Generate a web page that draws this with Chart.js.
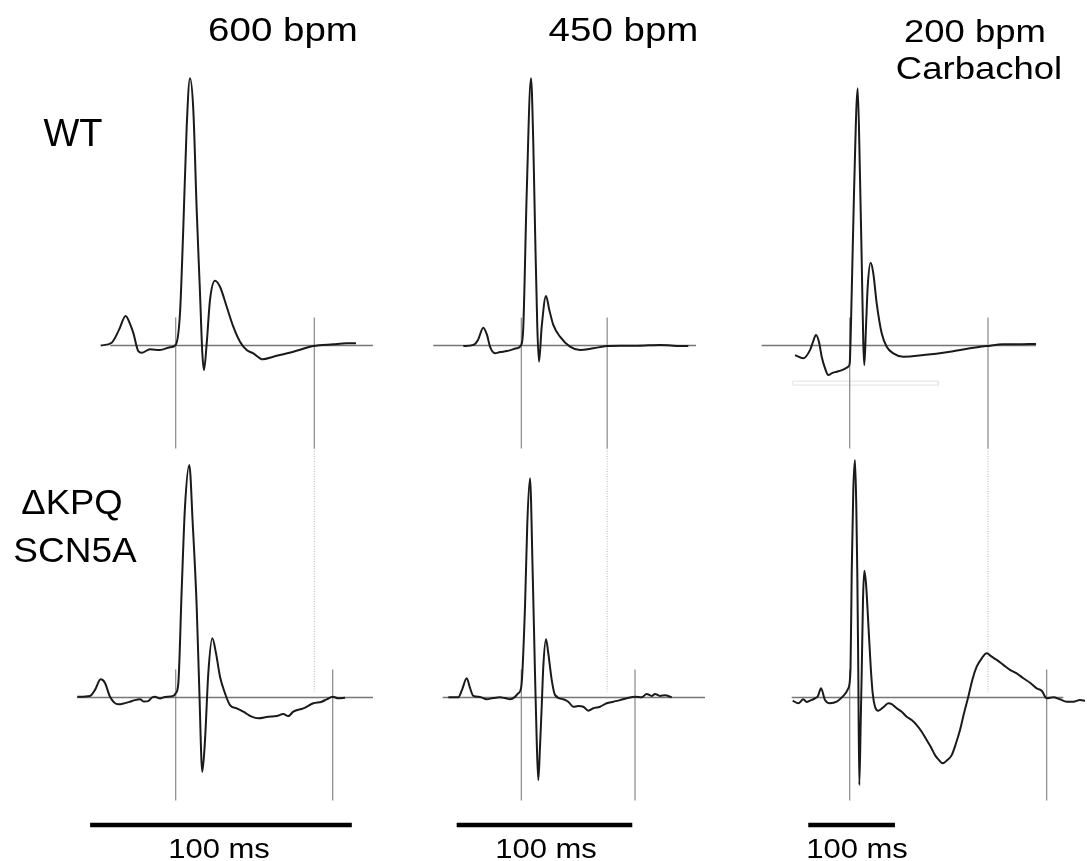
<!DOCTYPE html>
<html>
<head>
<meta charset="utf-8">
<script src="https://cdn.jsdelivr.net/npm/chart.js@4.4.0/dist/chart.umd.min.js"></script>
<style>
  html, body { margin: 0; padding: 0; background: #fff; }
  #fig { position: relative; width: 1087px; height: 861px; overflow: hidden; }
  #fig canvas { position: absolute; top: 0; }
  .lbl { position: absolute; font-family: "Liberation Sans", Arial, sans-serif; color: #000; white-space: nowrap; line-height: 1; }
</style>
</head>
<body>
<div id="fig"></div>
<script>
// ===== Data (time in ms from QRS onset, amplitude in mV) =====

const rates = ['600 bpm', '450 bpm', '200 bpm'];
const rateNote = ['', '', 'Carbachol'];
const rowNames = ['WT', 'ΔKPQ', 'SCN5A'];
const scaleBarMs = 100;
const scaleBarText = '100 ms';

// WT, 600 bpm
const wt600Ms = [-28.66,-24.46,-21.67,-19.11,-17.46,-16.2,-14.29,-12.99,-9.82,-6.0,-2.18,0,1.64,2.92,4.2,5.46,6.73,8.02,9.29,10.18,10.81,11.85,13.11,15.02,16.93,19.49,22.01,24.57,27.13,29.65,33.24,37.29,44.94,52.58,60.22,65.34,68.9];
const wt600Mv = [0.00,0.014,0.078,0.148,0.108,0.063,-0.028,-0.036,-0.019,-0.023,-0.009,0.003,0.161,0.594,1.094,1.336,1.178,0.678,0.261,-0.039,-0.123,0.011,0.228,0.324,0.294,0.194,0.094,0.019,-0.023,-0.039,-0.069,-0.056,-0.031,-0.003,0.006,0.011,0.011];

// WT, 450 bpm
const wt450Ms = [-33.03,-27.33,-24.66,-21.64,-19.53,-17.82,-14.98,-12.13,-8.31,-2.62,0,1.14,3.08,5.52,6.83,7.8,9.11,10.08,11.62,14.07,15.95,18.22,22.04,27.73,33.43,41.0,48.63,56.21,65.72,78.99,86.56,95.1];
const wt450Mv = [-0.003,0.003,0.028,0.089,0.053,-0.006,-0.039,-0.033,-0.028,-0.014,0.003,0.094,0.761,1.336,1.011,0.594,0.094,-0.081,0.094,0.248,0.178,0.103,0.044,-0.006,-0.023,-0.014,-0.003,-0.001,-0.001,0.003,-0.001,-0.003];

// WT, 200 bpm + carbachol
const wt200Ms = [-63.09,-53.52,-45.79,-42.33,-38.87,-35.41,-32.3,-28.49,-24.68,-20.42,-14.99,-8.88,-1.61,0,2.31,4.96,9.23,11.88,13.84,15.69,16.84,18.8,20.76,24.22,27.22,31.14,36.91,42.68,50.29,61.82,84.89,115.69,138.75,158.02,177.16,192.62,214.88];
const wt200Mv = [-0.048,-0.064,-0.023,0.018,0.053,0.018,-0.056,-0.113,-0.148,-0.138,-0.131,-0.123,-0.106,-0.089,0.261,0.761,1.286,0.844,0.428,0.011,-0.098,0.094,0.294,0.414,0.361,0.211,0.061,-0.006,-0.039,-0.056,-0.048,-0.031,-0.014,-0.003,0.006,0.006,0.008];

// dKPQ, 600 bpm
const kpq600Ms = [-37.6,-32.75,-30.84,-28.66,-27.02,-25.1,-21.93,-19.38,-17.46,-15.55,-13.64,-12.11,-10.47,-9.06,-7.91,-6.0,-4.09,-0.92,0,1.0,2.29,3.55,5.2,6.5,8.02,9.02,10.16,11.2,12.46,13.99,15.4,16.93,18.84,20.75,23.31,25.83,29.04,31.56,35.38,38.59,41.12,43.03,44.94,48.76,52.58,55.79,57.7,59.99,62.13,64.69];
const kpq600Mv = [0.004,0.008,0.038,0.091,0.073,0.004,-0.034,-0.028,-0.021,-0.013,-0.009,-0.02,-0.018,0,0.004,-0.005,0.003,0.008,0.021,0.071,0.538,0.954,1.163,0.871,0.454,0.038,-0.371,-0.213,0.121,0.296,0.221,0.104,0.021,-0.038,-0.054,-0.071,-0.096,-0.104,-0.096,-0.093,-0.083,-0.093,-0.071,-0.054,-0.029,-0.021,-0.009,0.004,-0.004,-0.001];

// dKPQ, 450 bpm
const kpq450Ms = [-41.57,-35.88,-33.77,-31.09,-29.21,-27.33,-23.52,-19.7,-16.12,-12.13,-9.28,-6.44,-3.59,-1.71,0,2.11,3.42,4.95,6.49,7.8,8.77,9.68,10.65,11.62,12.53,14.07,15.38,17.31,19.19,23.92,26.77,29.61,32.46,35.31,38.15,41.0,44.82,48.63,52.39,56.21,60.02,64.75,68.56,71.41,74.26,76.14,78.99,81.83,85.65];
const kpq450Mv = [0.001,0.001,0.038,0.096,0.048,0.008,0.003,-0.009,-0.003,0.001,-0.003,-0.009,0.003,0.021,0.054,0.454,0.871,1.096,0.621,0.121,-0.213,-0.413,-0.246,-0.046,0.154,0.291,0.221,0.088,0.013,-0.009,-0.021,-0.046,-0.043,-0.046,-0.066,-0.054,-0.046,-0.029,-0.021,-0.013,-0.004,0.004,0.001,0.018,0.008,0.018,0.008,0.011,0.001];

// dKPQ, 200 bpm + carbachol
const kpq200Ms = [-65.74,-59.28,-53.52,-49.6,-45.79,-40.02,-36.56,-33.1,-28.49,-22.72,-14.99,-7.38,-1.61,0.92,2.31,4.15,6.11,7.61,8.77,9.92,11.07,12.69,13.84,15.34,16.84,18.8,21.45,24.22,26.53,29.18,32.99,38.75,44.52,48.44,54.21,59.98,65.74,71.51,77.28,83.04,88.81,93.43,98.39,103.0,107.27,112.57,117.65,122.61,127.22,131.83,136.79,141.41,146.48,152.25,158.02,163.78,169.55,177.16,184.89,192.62,200.23,207.96,215.69,221.45,227.22,234.83,242.56,250.29,257.9,265.63,271.4];
const kpq200Mv = [-0.016,-0.029,-0.009,-0.023,-0.016,-0.004,0.008,0.046,-0.013,-0.029,-0.021,0.008,0.046,0.138,0.621,1.038,1.188,0.954,0.621,0.121,-0.438,-0.129,0.121,0.488,0.634,0.571,0.371,0.154,0.021,-0.046,-0.066,-0.049,-0.029,-0.033,-0.054,-0.071,-0.096,-0.113,-0.138,-0.171,-0.213,-0.246,-0.288,-0.313,-0.329,-0.313,-0.288,-0.229,-0.163,-0.079,0.004,0.088,0.154,0.196,0.221,0.204,0.188,0.163,0.138,0.121,0.096,0.074,0.046,0.034,-0.004,0.001,-0.009,-0.021,-0.021,-0.013,-0.016];

// T-wave end markers (ms) per column
const qtEndWT = [52.96, 48.9, 159.5];
const qtEndKPQ = [60.0, 64.75, 227.2];

// isoelectric reference lines, [start, end] ms per column
const baseWT = [[-25.07, 75.35], [-50.11, 99.49], [-101.5, 214.9]];
const baseKPQ = [[-37.71, 75.39], [-44.76, 104.6], [-66.9, 246.4]];

// faint leftover box under the carbachol WT trace (ms / mV)
const boxMs = [-65.7, 102.2];
const boxMv = [-0.178, -0.198];

// ===== Layout =====
const H = 861;
const PX_PER_MV = 200;
const BASE_TOP_PX = 345.5;
const BASE_BOT_PX = 697.5;
const ROW2 = -(BASE_BOT_PX - BASE_TOP_PX) / PX_PER_MV; // offset of second row
const MARK_HI = 0.14, MARK_LO = -0.515;                // vertical marker extent (mV)
const BAR_Y = -(825 - BASE_TOP_PX) / PX_PER_MV;

const cols = [
  { left: 0,   width: 400, onsetPx: 175.7, pxPerMs: 2.617, barStart: -32.7,
    wt: [wt600Ms, wt600Mv], kpq: [kpq600Ms, kpq600Mv], textX: 219 },
  { left: 400, width: 340, onsetPx: 521.3, pxPerMs: 1.756, barStart: -36.8,
    wt: [wt450Ms, wt450Mv], kpq: [kpq450Ms, kpq450Mv], textX: 546 },
  { left: 740, width: 347, onsetPx: 849.7, pxPerMs: 0.867, barStart: -47.8,
    wt: [wt200Ms, wt200Mv], kpq: [kpq200Ms, kpq200Mv], textX: 857 }
];

const fig = document.getElementById('fig');

const pts = (ts, vs, off) => ts.map((t, i) => ({ x: t, y: vs[i] + off }));
const seg = (x0, y0, x1, y1) => [{ x: x0, y: y0 }, { x: x1, y: y1 }];

function line(data, color, width, extra) {
  return Object.assign({
    data, borderColor: color, borderWidth: width, showLine: true,
    pointRadius: 0, fill: false, clip: false
  }, extra || {});
}

// ===== Charts, one per column =====
cols.forEach((c, i) => {
  const canvas = document.createElement('canvas');
  canvas.width = c.width;
  canvas.height = H;
  canvas.style.left = c.left + 'px';
  fig.appendChild(canvas);

  const trace = { cubicInterpolationMode: 'monotone' };
  const datasets = [
    line(pts(c.wt[0], c.wt[1], 0), '#1a1a1a', 2, trace),
    line(pts(c.kpq[0], c.kpq[1], ROW2), '#1a1a1a', 2, trace),
    line(seg(baseWT[i][0], 0, baseWT[i][1], 0), '#767676', 1.5),
    line(seg(baseKPQ[i][0], ROW2, baseKPQ[i][1], ROW2), '#767676', 1.5),
    line(seg(0, MARK_HI, 0, MARK_LO), '#888', 1.2),
    line(seg(qtEndWT[i], MARK_HI, qtEndWT[i], MARK_LO), '#888', 1.2),
    line(seg(0, ROW2 + MARK_HI, 0, ROW2 + MARK_LO), '#888', 1.2),
    line(seg(qtEndKPQ[i], ROW2 + MARK_HI, qtEndKPQ[i], ROW2 + MARK_LO), '#888', 1.2),
    line(seg(qtEndWT[i], MARK_LO, qtEndWT[i], ROW2 + 0.03), '#b5b5b5', 1, { borderDash: [1, 1.5] }),
    line(seg(c.barStart, BAR_Y, c.barStart + scaleBarMs, BAR_Y), '#000', 4.5, { borderCapStyle: 'butt' })
  ];
  if (i === 2) {
    datasets.push(line([
      { x: boxMs[0], y: boxMv[0] }, { x: boxMs[1], y: boxMv[0] },
      { x: boxMs[1], y: boxMv[1] }, { x: boxMs[0], y: boxMv[1] },
      { x: boxMs[0], y: boxMv[0] }
    ], '#e2e2e2', 1));
  }

  new Chart(canvas.getContext('2d'), {
    type: 'scatter',
    data: { datasets },
    options: {
      responsive: false,
      animation: false,
      devicePixelRatio: 1,
      events: [],
      layout: { padding: 0 },
      plugins: { legend: { display: false }, tooltip: { enabled: false } },
      scales: {
        x: { type: 'linear', display: false,
             min: (c.left - c.onsetPx) / c.pxPerMs,
             max: (c.left + c.width - c.onsetPx) / c.pxPerMs },
        y: { type: 'linear', display: false,
             min: -(H - BASE_TOP_PX) / PX_PER_MV,
             max: BASE_TOP_PX / PX_PER_MV }
      }
    }
  });
});

// ===== Text =====
function label(text, x, baseline, size, sy, align) {
  const d = document.createElement('div');
  d.className = 'lbl';
  d.textContent = text;
  const asc = 0.8465 * size;
  d.style.fontSize = size + 'px';
  d.style.left = x + 'px';
  d.style.top = (baseline - asc) + 'px';
  d.style.transformOrigin = '0 ' + asc + 'px';
  const tx = align === 'center' ? 'translateX(-50%) ' : '';
  d.style.transform = tx + 'scaleY(' + sy + ')';
  fig.appendChild(d);
}

label(rates[0], 283, 42, 38.5, 0.86, 'center');
label(rates[1], 623.5, 42, 38.5, 0.86, 'center');
label(rates[2], 975, 43, 36.5, 0.88, 'center');
label(rateNote[2], 979, 80, 36.5, 0.88, 'center');

label(rowNames[0], 73, 146, 38, 1.0, 'center');
label(rowNames[1], 72, 515, 36.5, 0.95, 'center');
label(rowNames[2], 75, 562, 37, 0.95, 'center');

cols.forEach(c => label(scaleBarText, c.textX, 858, 31, 0.92, 'center'));
</script>
</body>
</html>
